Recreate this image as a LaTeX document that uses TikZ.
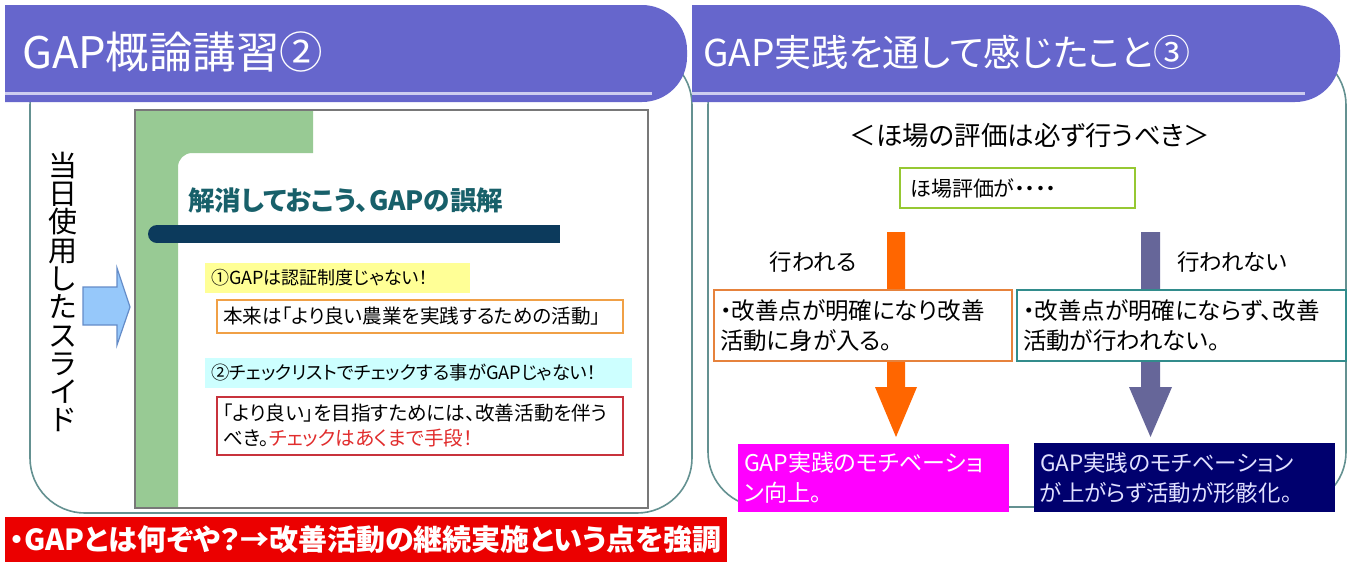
\documentclass[tikz,border=0pt]{standalone}
\usepackage{fontspec}
\setmainfont{Noto Sans CJK JP}[RawFeature=+palt]
\newcommand{\fsz}[2]{\fontsize{#1}{#2}\selectfont}
\definecolor{barc}{RGB}{102,102,204}
\definecolor{lavc}{RGB}{205,205,240}
\definecolor{cboxc}{RGB}{100,145,145}
\definecolor{slidec}{RGB}{120,120,120}
\definecolor{greenc}{RGB}{152,202,148}
\definecolor{navybar}{RGB}{12,58,92}
\definecolor{headc}{RGB}{24,96,106}
\definecolor{yelc}{RGB}{255,255,150}
\definecolor{cyanc}{RGB}{205,255,255}
\definecolor{oborder}{RGB}{240,160,70}
\definecolor{rborder}{RGB}{200,50,60}
\definecolor{redtext}{RGB}{225,45,45}
\definecolor{bannerc}{RGB}{235,0,0}
\definecolor{bluefill}{RGB}{150,200,250}
\definecolor{blueline}{RGB}{100,140,200}
\definecolor{oarrow}{RGB}{255,102,0}
\definecolor{parrow}{RGB}{102,102,153}
\definecolor{gyborder}{RGB}{150,200,50}
\definecolor{oboxb}{RGB}{230,130,60}
\definecolor{tboxb}{RGB}{50,140,140}
\definecolor{magc}{RGB}{255,0,255}
\definecolor{navyc}{RGB}{0,0,110}
\definecolor{navyt}{RGB}{225,225,255}
\tikzset{
  cbox/.style={draw=cboxc, line width=1.6, rounded corners=55},
  titlebar/.style={fill=barc},
  lavline/.style={draw=lavc, line width=3},
  titletext/.style={anchor=west, text=white, inner sep=0},
  textbox/.style={inner xsep=6, inner ysep=0, align=left, anchor=center},
}
\begin{document}
\begin{tikzpicture}[x=1pt,y=-1pt]
\useasboundingbox (0,0) rectangle (1351,566);
\fill[white] (0,0) rectangle (1351,566);

% ---------- left panel ----------
\draw[cbox] (30,50) rectangle (692,513);
\fill[titlebar] (5,102) -- (5,5) [rounded corners=45] -- (687,5) -- (687,102) [sharp corners] -- cycle;
\draw[lavline] (5,93) -- (652,93);
\node[titletext, font=\fsz{43.5}{43.5}] (tl) at (22,52) {GAP概論講習②};

\node[align=center, inner sep=0, font=\fsz{29}{28.3}] (vt) at (63,292)
  {当\\日\\使\\用\\し\\た\\ス\\ラ\\イ\\ド};
\fill[bluefill, draw=blueline, line width=1.2] (83,287) -- (117,287) -- (117,268) -- (130,307) -- (117,345) -- (117,325) -- (83,325) -- cycle;

% embedded slide
\fill[white] (135,110) rectangle (648,508);
\fill[greenc] (135,110) -- (313,110) -- (313,153) [rounded corners=14] -- (178,153) [sharp corners] -- (178,508) -- (135,508) -- cycle;
\draw[slidec, line width=1.4] (135,110) rectangle (648,508);
\node[anchor=west, inner sep=0, text=headc, font=\fsz{26.5}{26.5}\bfseries] (h1) at (188,200) {解消しておこう、GAPの誤解};
\fill[navybar] (157,225) rectangle (560,243);
\fill[navybar] (157,234) circle (9);

\node[fill=yelc, minimum width=259, minimum height=30, text width=253, textbox, font=\fsz{18}{18}] (p1) at (337.5,278) {①GAPは認証制度じゃない！};
\node[draw=oborder, line width=1.6, fill=white, minimum width=406, minimum height=33, text width=394, textbox, font=\fsz{19.6}{19.6}] (p2) at (420,316.5) {本来は「より良い農業を実践するための活動」};
\node[fill=cyanc, minimum width=421, minimum height=30, text width=415, textbox, font=\fsz{18.3}{18.3}] (p3) at (418.5,373) {②チェックリストでチェックする事がGAPじゃない！};
\node[draw=rborder, line width=1.6, fill=white, minimum width=406, minimum height=58, text width=394, textbox, font=\fsz{19.6}{25}] (p4) at (420,426)
  {「より良い」を目指すためには、改善活動を伴う\\べき。\textcolor{redtext}{チェックはあくまで手段！}};

% banner
\node[fill=bannerc, minimum width=722, minimum height=45, inner xsep=5, inner ysep=0, text width=712, align=left, text=white, font=\fsz{29}{29}\bfseries] (bn) at (366,539.5)
  {・GAPとは何ぞや？→改善活動の継続実施という点を強調};

% ---------- right panel ----------
\draw[cbox] (708,50) rectangle (1346,507);
\fill[titlebar] (692,102) -- (692,5) [rounded corners=45] -- (1340,5) -- (1340,102) [sharp corners] -- cycle;
\draw[lavline] (692,93) -- (1305,93);
\node[titletext, font=\fsz{37}{37}] (tr) at (703,52) {GAP実践を通して感じたこと③};

\node[inner sep=0, font=\fsz{26.5}{26.5}] (sub) at (1030,135) {＜ほ場の評価は必ず行うべき＞};
\node[draw=gyborder, line width=2, fill=white, minimum width=235, minimum height=40, text width=215, inner xsep=10, inner ysep=0, align=left, font=\fsz{21}{21}] (hb) at (1017.5,188) {ほ場評価が・・・・};

% arrows
\fill[oarrow] (887,232) -- (905,232) -- (905,387) -- (917,387) -- (896,437) -- (875,387) -- (887,387) -- cycle;
\fill[parrow] (1141,232) -- (1160,232) -- (1160,387) -- (1172,387) -- (1150.5,437) -- (1129,387) -- (1141,387) -- cycle;

\node[inner sep=0, font=\fsz{22.5}{22.5}] (yes) at (813,262) {行われる};
\node[inner sep=0, font=\fsz{22.5}{22.5}] (no) at (1232,262) {行われない};

\node[draw=oboxb, line width=2, fill=white, minimum width=298, minimum height=71, text width=286, textbox, font=\fsz{23.5}{30}] (ob) at (863,325.5)
  {・改善点が明確になり改善\\活動に身が入る。};
\node[draw=tboxb, line width=2, fill=white, minimum width=329, minimum height=71, text width=317, textbox, font=\fsz{23.5}{30}] (tb) at (1181.5,325.5)
  {・改善点が明確にならず、改善\\活動が行われない。};

\node[fill=magc, minimum width=271, minimum height=68, text width=259, textbox, text=white, font=\fsz{23}{30}] (mg) at (873.5,478)
  {GAP実践のモチベーショ\\ン向上。};
\node[fill=navyc, minimum width=301, minimum height=69, text width=289, textbox, text=navyt, font=\fsz{22.5}{30}] (nv) at (1184.5,477.5)
  {GAP実践のモチベーション\\が上がらず活動が形骸化。};
\end{tikzpicture}
\end{document}
